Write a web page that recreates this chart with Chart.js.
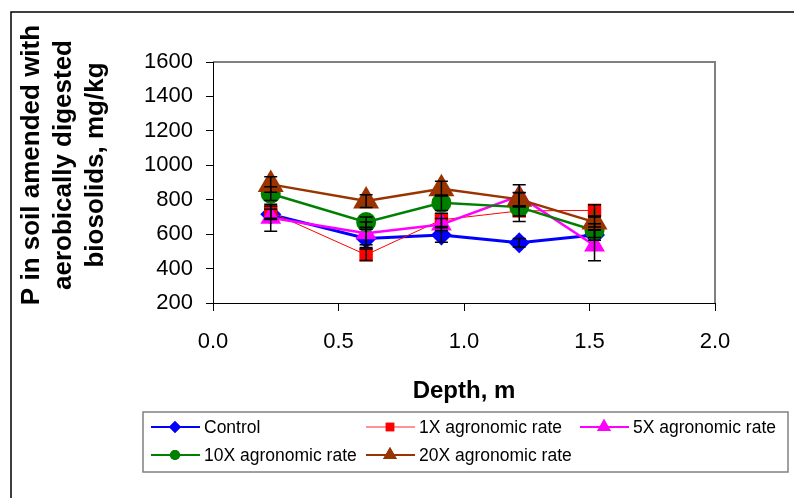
<!DOCTYPE html>
<html>
<head>
<meta charset="utf-8">
<script src="https://cdn.jsdelivr.net/npm/chart.js@4.4.1/dist/chart.umd.min.js"></script>
<style>
  html, body { margin: 0; padding: 0; background: #fff; }
  #wrap { width: 794px; height: 498px; }
</style>
</head>
<body>
<div id="wrap"><canvas id="pChart" width="794" height="498"></canvas></div>
<script>
// depth of each sample, m
const depths = [0.23, 0.61, 0.91, 1.22, 1.52];

// P concentration, mg/kg
const control = [715, 575, 595, 550, 595];
const rate1x  = [728, 480, 683, 735, 738];
const rate5x  = [695, 605, 656, 822, 534];
const rate10x = [835, 670, 782, 757, 621];
const rate20x = [889, 792, 864, 802, 670];

// error bar half-widths
const controlErr = [30, 53, 42, 25, 30];
const rate1xErr  = [35, 33, 39, 30, 33];
const rate5xErr  = [78, 66, 35, 65, 88];
const rate10xErr = [40, 30, 45, 84, 40];
const rate20xErr = [45, 37, 43, 40, 29];

const yTicks = [200, 400, 600, 800, 1000, 1200, 1400, 1600];
const xTicks = [0.0, 0.5, 1.0, 1.5, 2.0];

const seriesNames = ['Control', '1X agronomic rate', '5X agronomic rate', '10X agronomic rate', '20X agronomic rate'];

function toPoints(vals) {
    return vals.map((v, i) => ({ x: depths[i], y: v }));
}

const FONT = '"Liberation Sans", Arial, sans-serif';

const datasets = [
    { label: seriesNames[0], data: toPoints(control), err: controlErr, borderColor: '#0000ff', backgroundColor: '#0000ff',
      borderWidth: 3, pointStyle: 'rectRot', pointRadius: 10.5, order: 5 },
    { label: seriesNames[1], data: toPoints(rate1x), err: rate1xErr, borderColor: '#ff0000', backgroundColor: '#ff0000',
      borderWidth: 1, pointStyle: 'rect', pointRadius: 9.5, order: 4 },
    { label: seriesNames[2], data: toPoints(rate5x), err: rate5xErr, borderColor: '#ff00ff', backgroundColor: '#ff00ff',
      borderWidth: 2.5, pointStyle: 'triangle', pointRadius: 12, order: 3 },
    { label: seriesNames[3], data: toPoints(rate10x), err: rate10xErr, borderColor: '#008000', backgroundColor: '#008000',
      borderWidth: 2.5, pointStyle: 'circle', pointRadius: 10, order: 2 },
    { label: seriesNames[4], data: toPoints(rate20x), err: rate20xErr, borderColor: '#993300', backgroundColor: '#993300',
      borderWidth: 2.5, pointStyle: 'triangle', pointRadius: 15, order: 1 }
];
datasets.forEach(d => {
    d.pointBorderWidth = 0;
    d.pointBorderColor = d.borderColor;
    d.tension = 0;
    d.fill = false;
});

// error bars, drawn on top of the series
const errorBars = {
    id: 'errorBars',
    afterDatasetsDraw(chart) {
        const ctx = chart.ctx;
        const y = chart.scales.y;
        ctx.save();
        ctx.strokeStyle = '#000';
        ctx.lineWidth = 1.5;
        chart.data.datasets.forEach((ds, di) => {
            const meta = chart.getDatasetMeta(di);
            meta.data.forEach((pt, i) => {
                const v = ds.data[i].y, e = ds.err[i];
                const top = y.getPixelForValue(v + e);
                const bot = y.getPixelForValue(v - e);
                ctx.beginPath();
                ctx.moveTo(pt.x, top); ctx.lineTo(pt.x, bot);
                ctx.moveTo(pt.x - 6.5, top); ctx.lineTo(pt.x + 6.5, top);
                ctx.moveTo(pt.x - 6.5, bot); ctx.lineTo(pt.x + 6.5, bot);
                ctx.stroke();
            });
        });
        ctx.restore();
    }
};

// frame, plot border, axis titles and legend box
const decorations = {
    id: 'decorations',
    beforeDatasetsDraw(chart) {
        const { ctx, chartArea: a } = chart;
        ctx.save();
        ctx.strokeStyle = '#808080';
        ctx.lineWidth = 2;
        ctx.beginPath();
        ctx.moveTo(a.left, a.top); ctx.lineTo(a.right, a.top); ctx.lineTo(a.right, a.bottom);
        ctx.stroke();
        ctx.strokeStyle = '#000';
        ctx.lineWidth = 1;
        ctx.beginPath();
        ctx.moveTo(a.left + 0.5, a.top); ctx.lineTo(a.left + 0.5, a.bottom + 0.5); ctx.lineTo(a.right, a.bottom + 0.5);
        ctx.stroke();
        ctx.restore();
    },
    afterDraw(chart) {
        const { ctx, chartArea: a } = chart;
        ctx.save();
        // outer frame
        ctx.strokeStyle = '#000';
        ctx.lineWidth = 1.5;
        ctx.beginPath();
        ctx.moveTo(11, 498); ctx.lineTo(11, 12); ctx.lineTo(794, 12);
        ctx.stroke();

        // y title
        ctx.fillStyle = '#000';
        ctx.font = 'bold 26px ' + FONT;
        ctx.textAlign = 'center';
        ctx.textBaseline = 'alphabetic';
        const yLines = ['P in soil amended with', 'aerobically digested', 'biosolids, mg/kg'];
        const baseX = [39, 71, 103];
        yLines.forEach((t, i) => {
            ctx.save();
            ctx.translate(baseX[i], 165);
            ctx.rotate(-Math.PI / 2);
            ctx.fillText(t, 0, 0);
            ctx.restore();
        });

        // x title
        ctx.font = 'bold 24px ' + FONT;
        ctx.fillText('Depth, m', (a.left + a.right) / 2, 398);

        // legend
        ctx.strokeStyle = '#808080';
        ctx.lineWidth = 1.5;
        ctx.strokeRect(143, 412, 645, 60);
        const slots = [[151, 427], [366, 427], [580, 427], [151, 455], [366, 455]];
        const mk = [6, 6, 8, 5, 8];
        ctx.font = '17.5px ' + FONT;
        ctx.textAlign = 'left';
        ctx.textBaseline = 'middle';
        chart.data.datasets.forEach((ds, i) => {
            const [lx, ly] = slots[i];
            ctx.strokeStyle = i === 1 ? '#ff7070' : ds.borderColor;
            ctx.lineWidth = i === 1 ? 1.5 : 2;
            ctx.beginPath();
            ctx.moveTo(lx, ly); ctx.lineTo(lx + 49, ly);
            ctx.stroke();
            ctx.fillStyle = ds.backgroundColor;
            Chart.helpers.drawPoint(ctx, { pointStyle: ds.pointStyle, radius: mk[i], borderWidth: 0 }, lx + 24, ly);
            ctx.fill();
            ctx.fillStyle = '#000';
            ctx.fillText(ds.label, lx + 53, ly + 1);
        });
        ctx.restore();
    }
};

new Chart(document.getElementById('pChart'), {
    type: 'line',
    data: { datasets: datasets },
    plugins: [errorBars, decorations],
    options: {
        responsive: false,
        animation: false,
        layout: { padding: { left: 0, top: 62, right: 79, bottom: 0 } },
        plugins: {
            legend: { display: false },
            tooltip: { enabled: false }
        },
        scales: {
            x: {
                type: 'linear',
                min: 0, max: 2,
                afterFit: s => { s.height = 195; },
                afterBuildTicks: s => { s.ticks = xTicks.map(v => ({ value: v })); },
                border: { display: false },
                grid: { drawOnChartArea: false, drawTicks: true, tickLength: 8, color: '#000' },
                ticks: {
                    padding: 18,
                    color: '#000',
                    font: { family: FONT, size: 22 },
                    callback: v => v.toFixed(1)
                }
            },
            y: {
                min: 200, max: 1600,
                afterFit: s => { s.width = 213; },
                afterBuildTicks: s => { s.ticks = yTicks.map(v => ({ value: v })); },
                border: { display: false },
                grid: { drawOnChartArea: false, drawTicks: true, tickLength: 7, color: '#000' },
                ticks: {
                    padding: 13,
                    color: '#000',
                    font: { family: FONT, size: 22 },
                    callback: v => String(v)
                }
            }
        }
    }
});
</script>
</body>
</html>
